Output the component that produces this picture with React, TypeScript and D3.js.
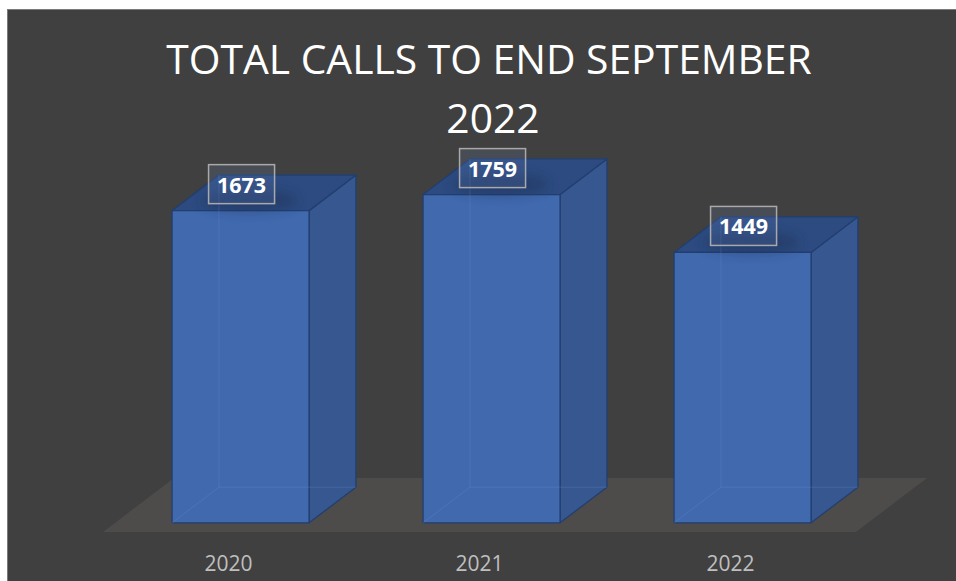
import React from "react";
import * as d3 from "d3";

const categories: string[] = ["2020", "2021", "2022"];
const values: number[] = [1673, 1759, 1449];
const titleLines: string[] = ["TOTAL CALLS TO END SEPTEMBER", "2022"];

const W = 956;
const H = 581;

export default function App() {
  const floorLeft = 103;
  const floorRight = 856;
  const baseY = 532;
  const depthX = 71;
  const depthY = 54;
  const z0 = 0.17;
  const z1 = 0.83;
  const barW = 137;

  const x = d3.scaleBand<string>().domain(categories).range([floorLeft, floorRight]).padding(0);
  const y = d3.scaleLinear().domain([0, 2000]).range([baseY, baseY - 373.2]);

  const P = (px: number, py: number, z: number): [number, number] => [px + z * depthX, py - z * depthY];
  const poly = (pts: [number, number][]) => pts.map((p) => p.join(",")).join(" ");

  const floorPts: [number, number][] = [
    P(floorLeft, baseY, 0),
    P(floorRight, baseY, 0),
    P(floorRight, baseY, 1),
    P(floorLeft, baseY, 1),
  ];

  const edge = "#223f70";

  return (
    <svg
      width={W}
      height={H}
      style={{ position: "absolute", left: 0, top: 0, fontFamily: "'Open Sans', sans-serif" }}
    >
      <defs>
        <filter id="soft" x="-50%" y="-50%" width="200%" height="200%">
          <feGaussianBlur stdDeviation="6" />
        </filter>
      </defs>
      <rect x={0} y={0} width={W} height={H} fill="#ffffff" />
      <rect x={7.5} y={9.5} width={W + 10} height={H + 10} fill="#404040" stroke="#7a7a7a" strokeWidth={1} />

      {titleLines.map((t, i) => (
        <text
          key={i}
          x={i === 0 ? 489 : 493}
          y={74 + i * 59}
          textAnchor="middle"
          fontSize={40.8}
          fill="#ffffff"
        >
          {t}
        </text>
      ))}

      <polygon points={poly(floorPts)} fill="#4e4b4b" />

      {categories.map((c, i) => {
        const cx = (x(c) as number) + x.bandwidth() / 2;
        const v = values[i];
        const xl = cx - barW / 2;
        const xr = cx + barW / 2;
        const yt = y(v);
        const yb = y(0);
        const fTL = P(xl, yt, z0), fTR = P(xr, yt, z0), fBL = P(xl, yb, z0), fBR = P(xr, yb, z0);
        const bTL = P(xl, yt, z1), bTR = P(xr, yt, z1), bBL = P(xl, yb, z1), bBR = P(xr, yb, z1);
        const labelCx = fTL[0] + barW / 2 + 1;
        const labelCy = fTL[1] - 26.5;
        return (
          <g key={c}>
            <polygon points={poly([fTR, bTR, bBR, fBR])} fill="#36578f" stroke={edge} strokeWidth={1.3} strokeLinejoin="round" />
            <polygon points={poly([fTL, fTR, bTR, bTL])} fill="#2d4b80" stroke={edge} strokeWidth={1.3} strokeLinejoin="round" />
            <polygon points={poly([fTL, fTR, fBR, fBL])} fill="#4169ae" stroke={edge} strokeWidth={1.3} strokeLinejoin="round" />
            {/* hidden edges seen through the translucent bar */}
            <g stroke="#6a8fcf" strokeOpacity={0.3} strokeWidth={1}>
              <line x1={bTL[0]} y1={bTL[1]} x2={bBL[0]} y2={bBL[1]} />
              <line x1={bBL[0]} y1={bBL[1]} x2={bBR[0]} y2={bBR[1]} />
              <line x1={bBL[0]} y1={bBL[1]} x2={fBL[0]} y2={fBL[1]} />
            </g>
            <ellipse cx={labelCx + 8} cy={fTL[1] - 10} rx={48} ry={11} fill="#14264a" opacity={0.35} filter="url(#soft)" />
            <rect
              x={labelCx - 33}
              y={labelCy - 19.5}
              width={66}
              height={39}
              fill="rgba(120,150,200,0.15)"
              stroke="#a9a9a9"
              strokeWidth={1.5}
            />
            <text x={labelCx} y={labelCy + 8.5} textAnchor="middle" fontSize={21.5} fontWeight="bold" fill="#ffffff">
              {v}
            </text>
            <text x={cx} y={571} textAnchor="middle" fontSize={21} fill="#bfbfbf">
              {c}
            </text>
          </g>
        );
      })}
    </svg>
  );
}
